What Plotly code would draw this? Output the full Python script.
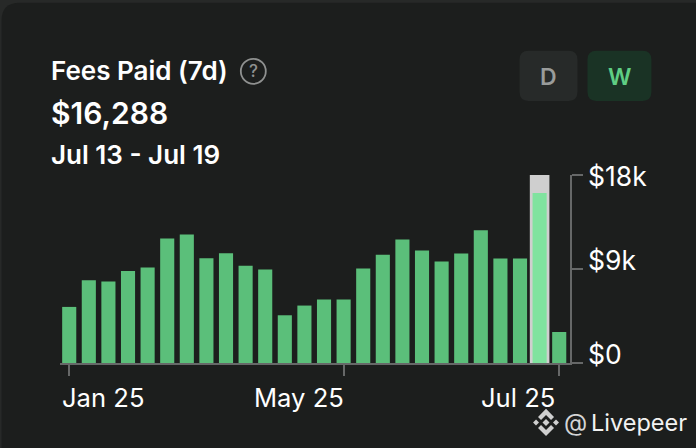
import plotly.graph_objects as go

# values
bar_index = list(range(26))
fees_k = [5.37, 7.93, 7.8, 8.82, 9.15, 11.93, 12.3, 10.04, 10.5, 9.3, 8.95, 4.57, 5.5,
          6.08, 6.08, 9.05, 10.36, 11.83, 10.78, 9.72, 10.49, 12.7, 10.0, 10.0, 16.288, 2.97]
selected_bar = 24
selected_band = [18]
x_tick_vals = [0, 14, 25]
x_tick_text = ["Jan 25", "May 25", "Jul 25"]
y_tick_vals = [0, 9, 18]
y_tick_text = ["$0", "$9k", "$18k"]

W, H = 696, 448
L, R, T, B = 60, 570.5, 175, 362.7
FONT = "Inter"
BG = "#1c1e1d"
OUTER = "#272928"
AXIS = "#666868"
GREEN = "#5bbf7a"
LIGHT = "#80e39f"


def px(x):
    return (x - L) / (R - L)


def py(y):
    return (B - y) / (B - T)


def round_rect(x0, y0, x1, y1, r):
    a, b, c, d = px(x0), px(x1), py(y0), py(y1)
    rx, ry = r / (R - L), r / (B - T)
    return (
        f"M {a + rx} {c} L {b - rx} {c} Q {b} {c} {b} {c - ry} L {b} {d + ry} Q {b} {d} {b - rx} {d} "
        f"L {a + rx} {d} Q {a} {d} {a} {d + ry} L {a} {c - ry} Q {a} {c} {a + rx} {c} Z"
    )


def poly(points):
    return "M " + " L ".join(f"{px(x)} {py(y)}" for x, y in points) + " Z"


def label(text, x, y, size, color="white", weight=400, anchor="left"):
    return dict(
        text=text, x=px(x), y=py(y), xref="paper", yref="paper", xanchor=anchor, yanchor="middle",
        showarrow=False, font=dict(family=FONT, size=size, color=color, weight=weight),
    )


def panel(path, color):
    return dict(type="path", path=path, xref="paper", yref="paper", fillcolor=color,
                line_width=0, layer="below")


fig = go.Figure()
fig.add_trace(go.Bar(x=[selected_bar], y=selected_band, width=1.0, marker_color="#cfcfcf",
                     marker_line_width=0))
fig.add_trace(go.Bar(
    x=bar_index, y=fees_k, width=0.72, marker_line_width=0,
    marker_color=[LIGHT if i == selected_bar else GREEN for i in bar_index],
))

# card, buttons, help icon, watermark logo
cx, cy = 546.5, 422
shapes = [
    panel(round_rect(1.5, 3, 760, 520, 18), BG),
    panel(round_rect(520, 51, 578, 101, 9), "#272a29"),
    panel(round_rect(588, 51, 652, 101, 9), "#1a3325"),
    dict(type="circle", xref="paper", yref="paper", x0=px(241), x1=px(266), y0=py(59), y1=py(84),
         line=dict(color="#8f9190", width=1.8)),
]
logo_parts = [
    [(cx - 13, cy), (cx - 10, cy - 3), (cx - 7, cy), (cx - 10, cy + 3)],
    [(cx + 13, cy), (cx + 10, cy - 3), (cx + 7, cy), (cx + 10, cy + 3)],
    [(cx, cy - 3.5), (cx + 3.5, cy), (cx, cy + 3.5), (cx - 3.5, cy)],
    [(cx, cy - 13.5), (cx + 8, cy - 5.5), (cx + 5, cy - 2.5), (cx, cy - 7.5), (cx - 5, cy - 2.5), (cx - 8, cy - 5.5)],
    [(cx, cy + 13.5), (cx + 8, cy + 5.5), (cx + 5, cy + 2.5), (cx, cy + 7.5), (cx - 5, cy + 2.5), (cx - 8, cy + 5.5)],
]
for part in logo_parts:
    shapes.append(dict(type="path", path=poly(part), xref="paper", yref="paper",
                       fillcolor="#cfcfcf", line_width=0))

annotations = [
    label("Fees Paid (7d)", 48.5, 71, 26, weight=600),
    label("?", 253.5, 71.5, 17, color="#8f9190", weight=500, anchor="center"),
    label("$16,288", 48.5, 113, 30, weight=600),
    label("Jul 13 - Jul 19", 48.5, 155, 26, weight=600),
    label("D", 549, 77, 23, color="#9a9c9b", weight=600, anchor="center"),
    label("W", 620, 77, 23, color="#5fce84", weight=600, anchor="center"),
    label("@", 576, 422, 24, color="#d5d5d5", anchor="center"),
    label("Livepeer", 590, 422, 23.5, color="#f2f2f2"),
]
# tick labels sit off their ticks in the original
x_label_pos = [(60.5, "left"), (346, "right"), (557, "right")]
for text, (x, anchor) in zip(x_tick_text, x_label_pos):
    annotations.append(label(text, x, 397, 25.6, anchor=anchor))
for text, y in zip(y_tick_text, [354, 260, 176]):
    annotations.append(label(text, 586.5, y, 26.5))

fig.update_layout(
    width=W, height=H,
    margin=dict(l=L, r=W - R, t=T, b=H - B, pad=0),
    paper_bgcolor=OUTER, plot_bgcolor=BG,
    barmode="overlay", showlegend=False,
    shapes=shapes, annotations=annotations,
    xaxis=dict(range=[-0.47, 25.55], tickvals=x_tick_vals, ticktext=x_tick_text, showticklabels=False,
               ticks="outside", ticklen=11, tickwidth=1.5, tickcolor=AXIS,
               showline=True, linecolor=AXIS, linewidth=1.5, showgrid=False, zeroline=False),
    yaxis=dict(range=[0, 18], side="right", tickvals=y_tick_vals, ticktext=y_tick_text, showticklabels=False,
               ticks="outside", ticklen=11, tickwidth=1.5, tickcolor=AXIS,
               showline=True, linecolor=AXIS, linewidth=1.5, showgrid=False, zeroline=False),
)

fig.write_html("out.html", config={"displayModeBar": False},
               post_script="document.body.style.margin='0'")
